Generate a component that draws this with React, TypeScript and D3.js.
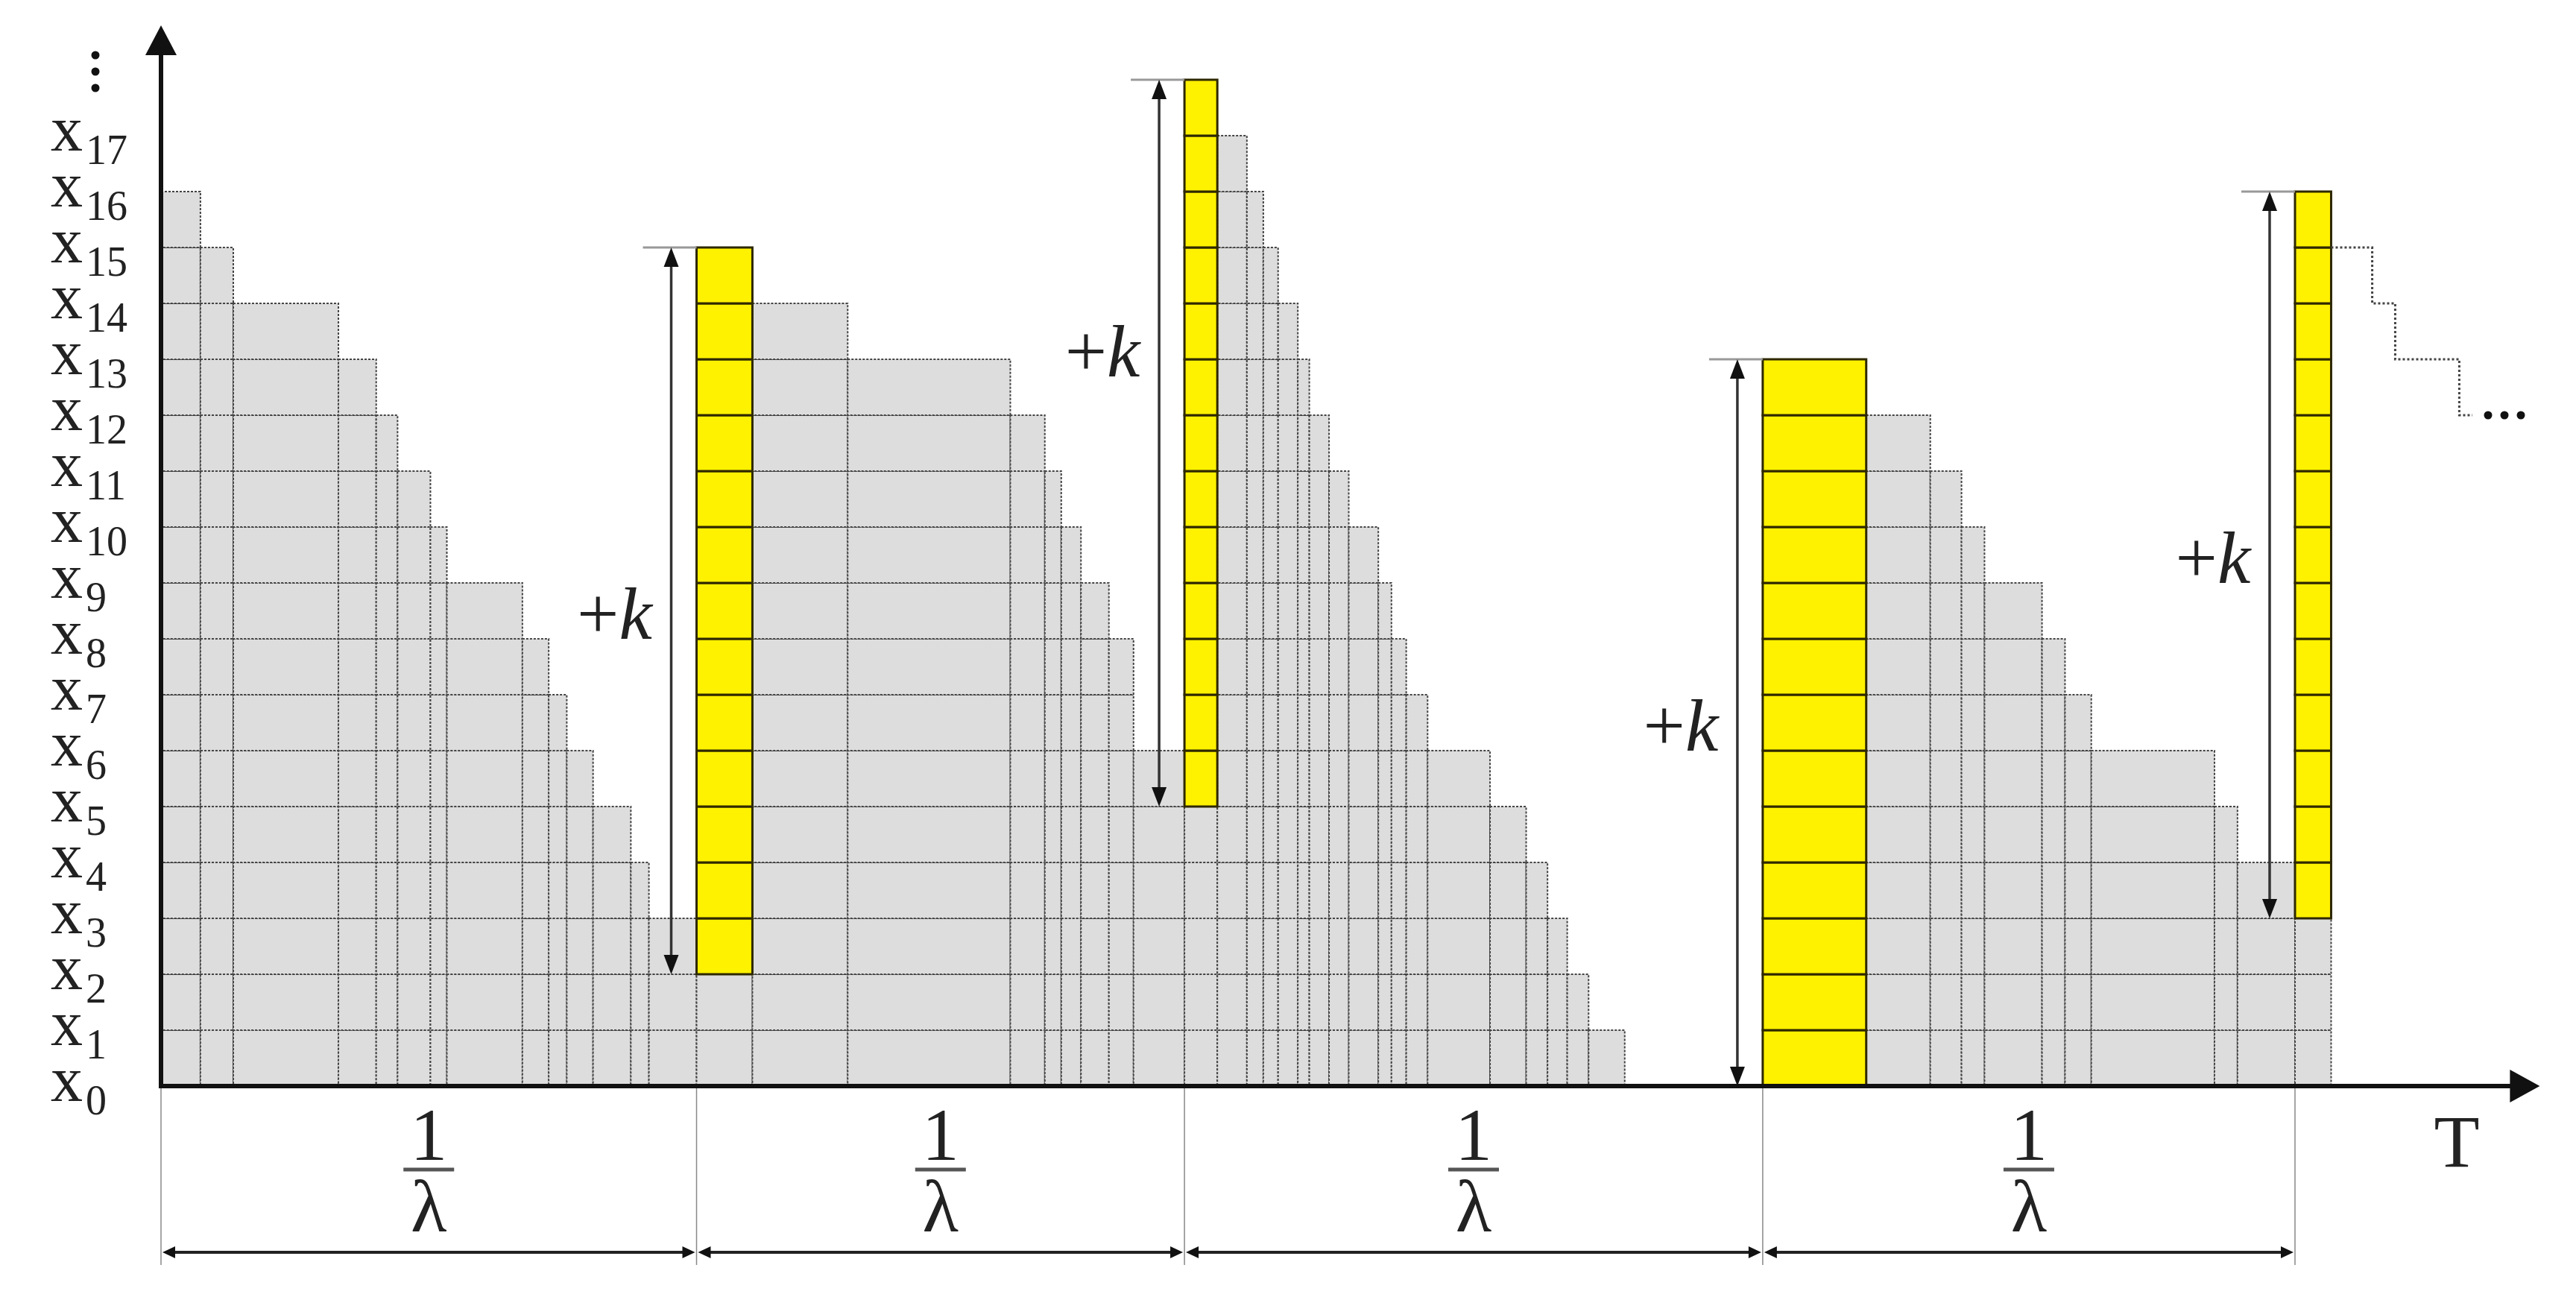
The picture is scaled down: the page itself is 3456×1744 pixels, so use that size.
import React from "react";
import * as d3 from "d3";

// stock level: time each step starts (arbitrary time units) and level held from then on
const stepTimes = [
  0, 24, 44, 108, 131, 144, 164, 174, 220, 236, 247, 263, 286, 297,
  326, 360, 418, 517, 538, 548, 560, 577, 592,
  623, 643, 661, 671, 680, 692, 699, 711, 723, 741, 749, 758, 771, 809, 831, 844, 856, 869, 891,
  975, 1038, 1077, 1096, 1110, 1145, 1159, 1175, 1250, 1264,
  1299,
];
const stepLevels = [
  16, 15, 14, 13, 12, 11, 10, 9, 8, 7, 6, 5, 4, 3,
  15, 14, 13, 12, 11, 10, 9, 8, 6,
  18, 17, 16, 15, 14, 13, 12, 11, 10, 9, 8, 7, 6, 5, 4, 3, 2, 1, 0,
  13, 12, 11, 10, 9, 8, 7, 6, 5, 4,
  16,
];
const endTime = 1321;

// replenishments (+k)
const orderTimes = [326, 623, 975, 1299];
const orderFrom = [2, 5, 0, 3];
const orderSize = 13;
const kLabelLevels = [8, 12.7, 6, 9];

// 1/lambda intervals
const cycleBounds = [0, 326, 623, 975, 1299];

// dotted continuation
const projTimes = [1321, 1346, 1360, 1399, 1407];
const projLevels = [15, 14, 13, 12, 12];

const levelTicks = d3.range(0, 18);

const FONT = "'Liberation Serif', 'DejaVu Serif', serif";

export default function App() {
  const x = d3.scaleLinear().domain([0, 1000]).range([216, 2420]);
  const y = d3.scaleLinear().domain([0, 18]).range([1457, 107]);

  const gray: any[] = [];
  const yellow: any[] = [];
  stepTimes.forEach((t0, i) => {
    const t1 = i + 1 < stepTimes.length ? stepTimes[i + 1] : endTime;
    const L = stepLevels[i];
    const oi = orderTimes.indexOf(t0);
    const base = oi >= 0 ? orderFrom[oi] : L;
    for (let j = 0; j < L; j++) {
      const cell = { x: x(t0), w: x(t1) - x(t0), y: y(j + 1), h: y(j) - y(j + 1), key: `${i}-${j}` };
      (j >= base ? yellow : gray).push(cell);
    }
  });

  const projLine = d3
    .line<number>()
    .x((d, i) => x(projTimes[i]))
    .y((d) => y(d))
    .curve(d3.curveStepAfter);

  const axisY = y(0);
  const xEnd = x(1448);
  const projEndX = x(projTimes[projTimes.length - 1]);

  return (
    <svg
      width={3456}
      height={1744}
      style={{ position: "absolute", left: 0, top: 0, background: "#fff" }}
    >
      {/* gray stock cells */}
      {gray.map((c) => (
        <rect
          key={c.key}
          x={c.x}
          y={c.y}
          width={c.w}
          height={c.h}
          fill="#dddddd"
          stroke="#444"
          strokeWidth={2}
          strokeDasharray="3 2"
        />
      ))}
      {/* new stock cells */}
      {yellow.map((c) => (
        <rect
          key={c.key}
          x={c.x}
          y={c.y}
          width={c.w}
          height={c.h}
          fill="#fff200"
          stroke="#2e2800"
          strokeWidth={3}
        />
      ))}

      {/* dotted continuation */}
      <path d={projLine(projLevels) || ""} fill="none" stroke="#444" strokeWidth={3} strokeDasharray="3 3" />
      {[0, 1, 2].map((i) => (
        <circle key={i} cx={projEndX + 21 + 22 * i} cy={y(12)} r={5.5} fill="#111" />
      ))}

      {/* +k arrows */}
      {orderTimes.map((t, i) => {
        const cx = x(t);
        const ax = cx - 34;
        const top = y(orderFrom[i] + orderSize);
        const bot = y(orderFrom[i]);
        return (
          <g key={`k${i}`}>
            <line x1={ax - 38} x2={cx} y1={top} y2={top} stroke="#999" strokeWidth={3} />
            <line x1={ax} x2={ax} y1={top + 20} y2={bot - 20} stroke="#333" strokeWidth={3.5} />
            <polygon points={`${ax},${top} ${ax - 10},${top + 26} ${ax + 10},${top + 26}`} fill="#111" />
            <polygon points={`${ax},${bot} ${ax - 10},${bot - 26} ${ax + 10},${bot - 26}`} fill="#111" />
            <text
              x={cx - 110}
              y={y(kLabelLevels[i])}
              textAnchor="middle"
              fontFamily={FONT}
              fontSize={100}
              fill="#222"
            >
              +<tspan fontStyle="italic">k</tspan>
            </text>
          </g>
        );
      })}

      {/* axes */}
      <line x1={216} x2={216} y1={axisY + 3} y2={70} stroke="#111" strokeWidth={6} />
      <polygon points={`216,34 195,74 237,74`} fill="#111" />
      <line x1={213} x2={xEnd - 36} y1={axisY} y2={axisY} stroke="#111" strokeWidth={6} />
      <polygon points={`${xEnd},${axisY} ${xEnd - 40},${axisY - 22} ${xEnd - 40},${axisY + 22}`} fill="#111" />

      {/* y labels */}
      {levelTicks.map((l) => (
        <text key={`l${l}`} x={68} y={y(l) + 20} fontFamily={FONT} fontSize={86} fill="#222">
          x
          <tspan dx={4} dy={18} fontSize={56}>
            {l}
          </tspan>
        </text>
      ))}
      {[74, 96, 118].map((cy) => (
        <circle key={cy} cx={128} cy={cy} r={5.5} fill="#111" />
      ))}

      {/* 1/lambda intervals */}
      {cycleBounds.map((t) => (
        <line key={`b${t}`} x1={x(t)} x2={x(t)} y1={axisY + 3} y2={1697} stroke="#888" strokeWidth={1.5} />
      ))}
      {cycleBounds.slice(0, -1).map((t, i) => {
        const a = x(t);
        const b = x(cycleBounds[i + 1]);
        const m = (a + b) / 2;
        const ay = 1680;
        return (
          <g key={`c${i}`}>
            <line x1={a + 10} x2={b - 10} y1={ay} y2={ay} stroke="#222" strokeWidth={4} />
            <polygon points={`${a + 2},${ay} ${a + 19},${ay - 8} ${a + 19},${ay + 8}`} fill="#111" />
            <polygon points={`${b - 2},${ay} ${b - 19},${ay - 8} ${b - 19},${ay + 8}`} fill="#111" />
            <text x={m} y={1556} textAnchor="middle" fontFamily={FONT} fontSize={100} fill="#222">
              1
            </text>
            <line x1={m - 34} x2={m + 34} y1={1569} y2={1569} stroke="#555" strokeWidth={5} />
            <text x={m} y={1652} textAnchor="middle" fontFamily={FONT} fontSize={100} fill="#222">
              λ
            </text>
          </g>
        );
      })}
      <text x={3296} y={1565} textAnchor="middle" fontFamily={FONT} fontSize={100} fill="#222">
        T
      </text>
    </svg>
  );
}
